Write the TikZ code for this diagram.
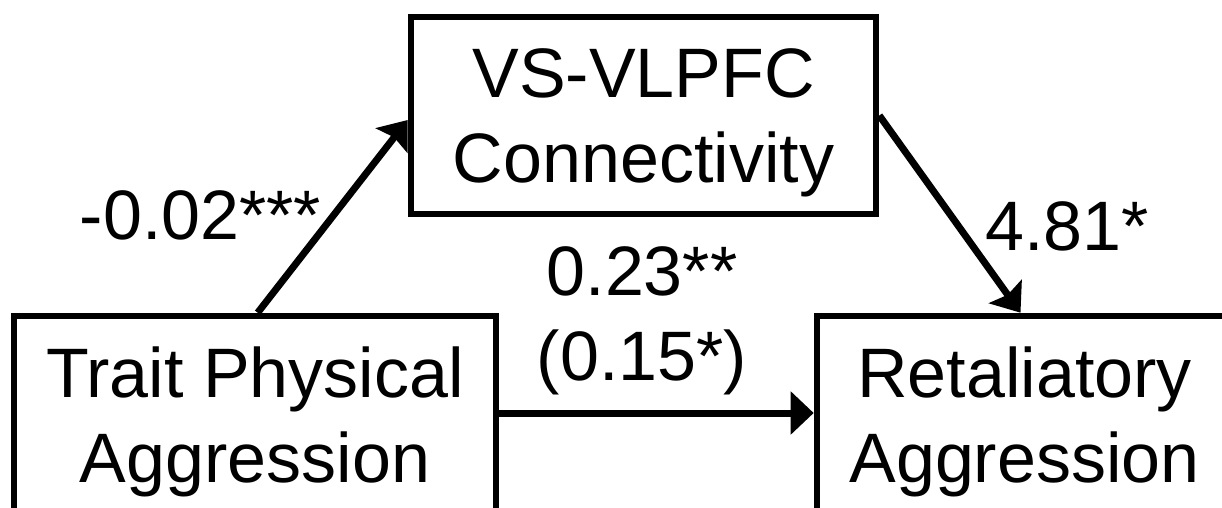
\documentclass[tikz,border=0pt]{standalone}
\usepackage{fontspec}
\setmainfont{Liberation Sans}
\usetikzlibrary{arrows.meta,calc}
\begin{document}
\begin{tikzpicture}[x=0.5pt,y=-0.5pt,
  box/.style={draw,line width=3.3pt,inner sep=0pt,align=center,font=\fontsize{35}{42.5}\selectfont},
  lab/.style={font=\fontsize{35}{42.5}\selectfont,inner sep=0pt,anchor=base},
  arr/.style={line width=3.5pt,-{Stealth[length=13pt,width=20pt,inset=2pt]}},
  harr/.style={line width=3.5pt,-{Triangle[length=11.5pt,width=21pt]}}]
\useasboundingbox (0,0) rectangle (1222,508);
\node[box,minimum width=232.5pt,minimum height=98.5pt] (vs) at (643.5,115.5) {\rule{0pt}{32pt}VS-VLPFC\\Connectivity};
\node[box,minimum width=241pt,minimum height=106pt] (tpa) at (255,422) {Trait Physical\\Aggression};
\node[box,minimum width=207.5pt,minimum height=106pt] (rr) at (1024.5,422) {Retaliatory\\Aggression};
\node[lab] (l1) at (200.5,240) {-0.02***};
\node[lab] (l2) at (1067,250) {4.81*};
\node[lab,align=center] (l3) at (642,380) {0.23**\\(0.15*)};
\draw[arr] ([xshift=123.5pt]tpa.north west) -- ([yshift=-2.25pt]vs.west);
\draw[arr] (vs.east) -- ([xshift=-2pt]rr.north);
\draw[harr] ([yshift=4.5pt]tpa.east) -- ([yshift=4.5pt]rr.west);
\end{tikzpicture}
\end{document}
